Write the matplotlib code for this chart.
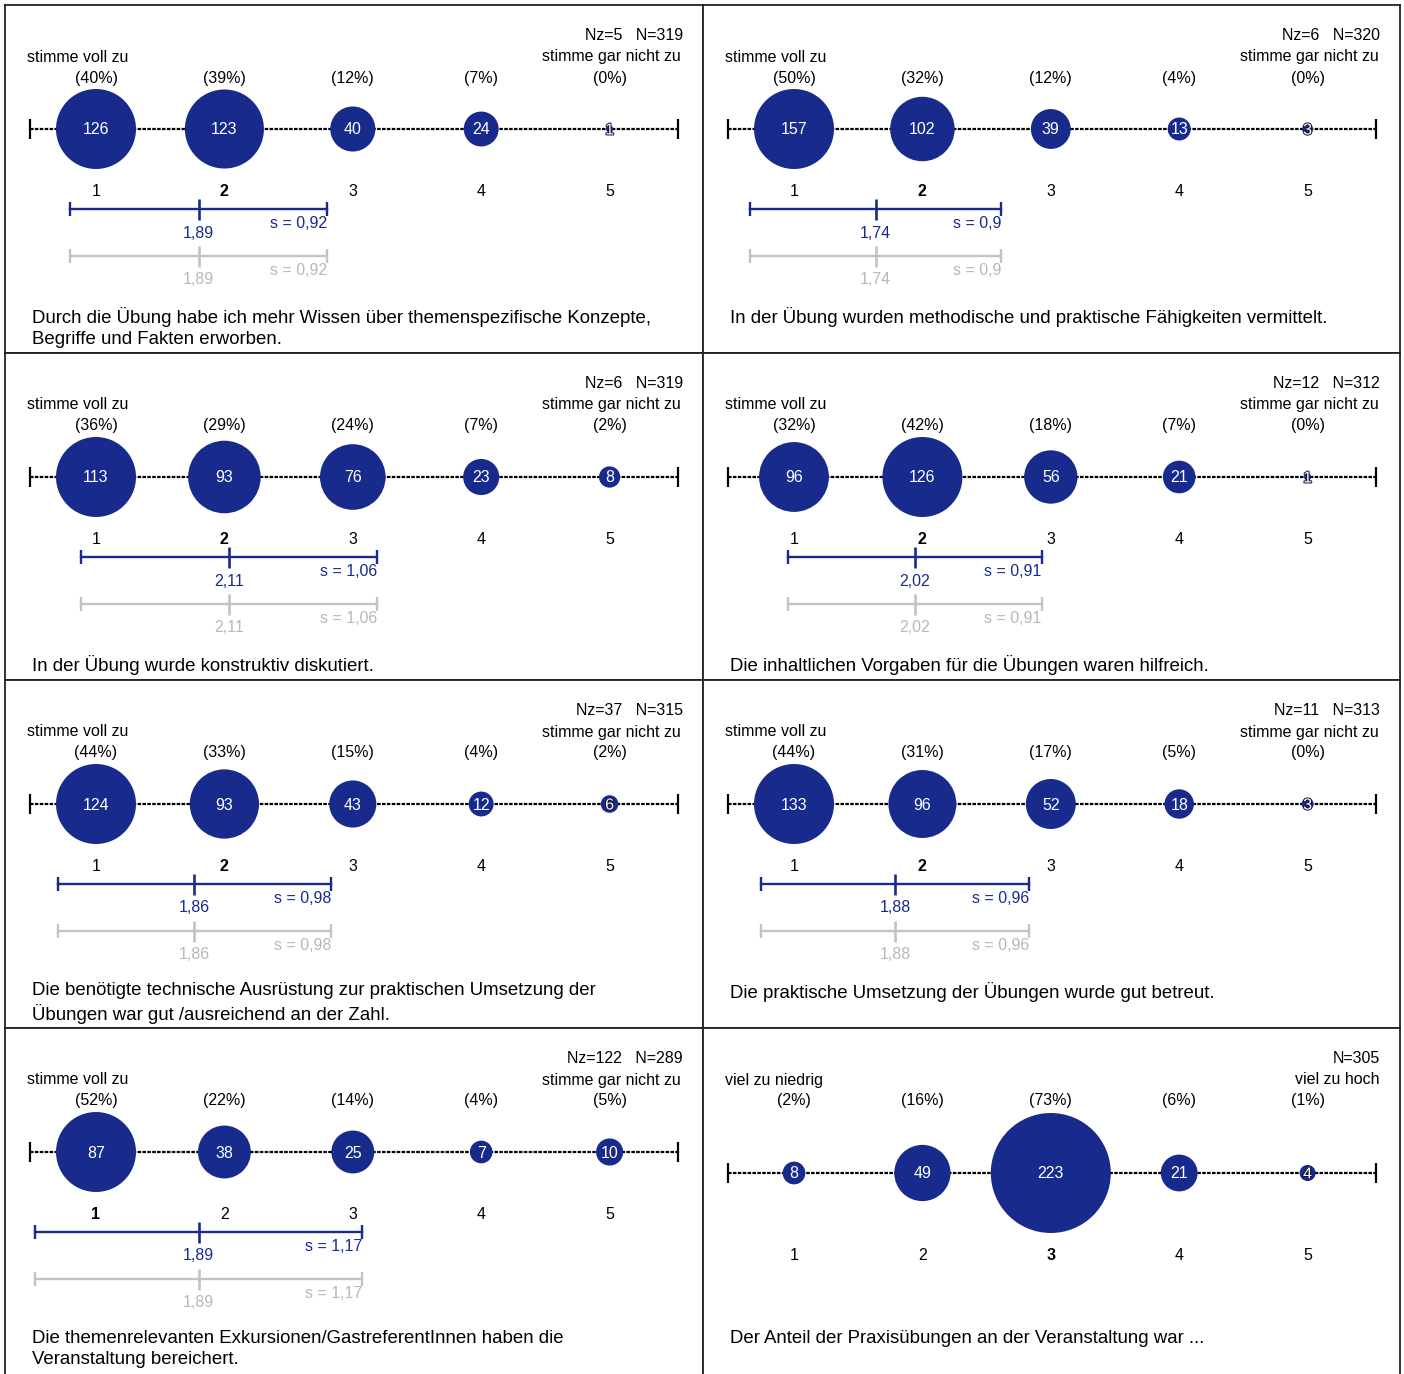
import numpy as np
import matplotlib
matplotlib.use("Agg")
from matplotlib import pyplot as plt
import matplotlib.patheffects as pe

plt.rcParams['font.family'] = ['Liberation Sans', 'DejaVu Sans']

# data, one entry per panel (left to right, top to bottom)
counts = [
    [126, 123, 40, 24, 1],
    [157, 102, 39, 13, 3],
    [113, 93, 76, 23, 8],
    [96, 126, 56, 21, 1],
    [124, 93, 43, 12, 6],
    [133, 96, 52, 18, 3],
    [87, 38, 25, 7, 10],
    [8, 49, 223, 21, 4],
]
percents = [
    [40, 39, 12, 7, 0],
    [50, 32, 12, 4, 0],
    [36, 29, 24, 7, 2],
    [32, 42, 18, 7, 0],
    [44, 33, 15, 4, 2],
    [44, 31, 17, 5, 0],
    [52, 22, 14, 4, 5],
    [2, 16, 73, 6, 1],
]
nz = [5, 6, 6, 12, 37, 11, 122, None]
n_total = [319, 320, 319, 312, 315, 313, 289, 305]
means = [1.89, 1.74, 2.11, 2.02, 1.86, 1.88, 1.89, None]
stds = [0.92, 0.9, 1.06, 0.91, 0.98, 0.96, 1.17, None]
left_labels = ["stimme voll zu"] * 7 + ["viel zu niedrig"]
right_labels = ["stimme gar nicht zu"] * 7 + ["viel zu hoch"]
questions = [
    "Durch die Übung habe ich mehr Wissen über themenspezifische Konzepte,\nBegriffe und Fakten erworben.",
    "In der Übung wurden methodische und praktische Fähigkeiten vermittelt.",
    "In der Übung wurde konstruktiv diskutiert.",
    "Die inhaltlichen Vorgaben für die Übungen waren hilfreich.",
    "Die benötigte technische Ausrüstung zur praktischen Umsetzung der\nÜbungen war gut /ausreichend an der Zahl.",
    "Die praktische Umsetzung der Übungen wurde gut betreut.",
    "Die themenrelevanten Exkursionen/GastreferentInnen haben die\nVeranstaltung bereichert.",
    "Der Anteil der Praxisübungen an der Veranstaltung war ...",
]
scale = [1, 2, 3, 4, 5]

# style
W, H = 1404, 1374
BLUE = '#182a8c'
GREY = '#c3c3c3'
GREY_TXT = '#b8b8b8'
col_x = [(5, 703), (703, 1400)]
row_y = [(5, 353), (353, 680), (680, 1028), (1028, 1376)]
r_max = [40] * 7 + [60]
fs = 11.5
dy = 1.5  # text baseline nudge


def fmt(v):
    return ("%g" % v).replace(".", ",")


fig = plt.figure(figsize=(W / 100, H / 100), dpi=100)

for i in range(8):
    x0, x1 = col_x[i % 2]
    y0, y1 = row_y[i // 2]
    pw, ph = x1 - x0, y1 - y0
    rect = [x0 / W, 1 - y1 / H, pw / W, ph / H]

    # bubble scale: value -> panel pixel
    ax = fig.add_axes(rect)
    ax.set_xlim(37.4 / 128.4, (pw + 37.4) / 128.4)
    ax.set_ylim(ph, 0)
    ax.set_xticks([])
    ax.set_yticks([])
    for sp in ax.spines.values():
        sp.set_linewidth(1.3)
        sp.set_color('#222222')

    # mean/std bar scale
    axb = fig.add_axes(rect, sharey=ax)
    axb.set_xlim(70 / 139.5, (pw + 70) / 139.5)
    axb.axis('off')
    axb.patch.set_alpha(0)

    big = (i == 7)
    y_line = 145 if big else 124
    y_ticks = 226 if big else 185

    c = np.array(counts[i], dtype=float)
    cum = np.cumsum(c) / c.sum()
    median = int(np.argmax(cum > 0.5))

    # header
    if nz[i] is not None:
        head = "Nz=%d   N=%d" % (nz[i], n_total[i])
    else:
        head = "N=%d" % n_total[i]
    ax.text((pw + 17.4) / 128.4, 29 + dy, head, ha='right', va='center', fontsize=fs)
    ax.text((22 + 37.4) / 128.4, 50.5 + dy, left_labels[i], ha='left', va='center', fontsize=fs)
    ax.text((676 + 37.4) / 128.4, 50.5 + dy, right_labels[i], ha='right', va='center', fontsize=fs)
    for v, p in zip(scale, percents[i]):
        ax.text(v, 71.5 + dy, "(%d%%)" % p, ha='center', va='center', fontsize=fs)

    # dotted scale line with end ticks
    ends = [0.486, 5.533]
    ax.plot(ends, [y_line, y_line], color='black', lw=1.6, ls=(0, (1.6, 0.6)), zorder=1)
    ax.vlines(ends, y_line - 10, y_line + 10, color='black', lw=1.6, zorder=1)

    # bubbles
    r = r_max[i] * np.sqrt(c / c.max())
    sizes = (2 * r * 0.72) ** 2
    ax.scatter(scale, [y_line] * 5, s=sizes, color=BLUE, linewidths=0, zorder=2)
    for v, n, rr in zip(scale, counts[i], r):
        t = ax.text(v, y_line + 1, str(n), ha='center', va='center', color='white', fontsize=fs, zorder=3)
        if rr < 9:
            t.set_path_effects([pe.withStroke(linewidth=1.4, foreground='#111133')])

    for k, v in enumerate(scale):
        ax.text(v, y_ticks + dy, str(v), ha='center', va='center', fontsize=fs,
                fontweight='bold' if k == median else 'normal')

    # mean and standard deviation bars
    if means[i] is not None:
        m, s = means[i], stds[i]
        for yb, colr, tcol, ym, ys in [(204, BLUE, BLUE, 226.5, 217), (251, GREY, GREY_TXT, 273, 264)]:
            axb.plot([m - s, m + s], [yb, yb], color=colr, lw=1.7)
            axb.vlines([m - s, m + s], yb - 7, yb + 7, color=colr, lw=1.7)
            axb.vlines([m], yb - 10.5, yb + 10.5, color=colr, lw=1.9)
            axb.text(m, ym + dy, ("%.2f" % m).replace(".", ","), ha='center', va='center', color=tcol, fontsize=fs)
            axb.text(m + s, ys + dy, "s = " + fmt(s), ha='right', va='center', color=tcol, fontsize=fs)

    # question text
    ax.text((27 + 37.4) / 128.4, 302, questions[i], ha='left', va='top', fontsize=13.4,
            linespacing=1.32)

fig.savefig("out.png", dpi=100)
